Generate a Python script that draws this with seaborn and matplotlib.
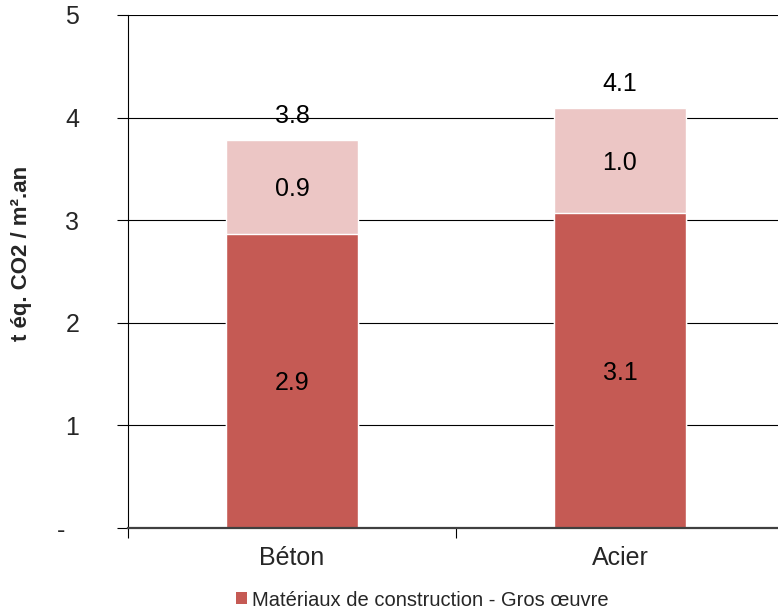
import matplotlib
matplotlib.use("Agg")
import matplotlib.pyplot as plt
import seaborn as sns
import pandas as pd
from matplotlib.patches import Patch
from matplotlib.ticker import FixedLocator

# Data: CO2 emissions per structure type (t éq. CO2 / m².an)
categories = ["Béton", "Acier"]
gros_oeuvre = [2.87, 3.07]        # Matériaux de construction - Gros œuvre
second_oeuvre = [0.91, 1.02]      # upper segment
totals = [a + b for a, b in zip(gros_oeuvre, second_oeuvre)]
y_ticks = [0, 1, 2, 3, 4, 5]
y_tick_labels = ["-  ", "1", "2", "3", "4", "5"]
legend_label = "Matériaux de construction - Gros œuvre"
y_label = "t éq. CO2 / m².an"

DARK = "#C55A54"
LIGHT = "#ECC6C5"
FS = 18

sns.set_theme(style="white")
plt.rcParams["font.family"] = ["Liberation Sans", "DejaVu Sans"]

df = pd.DataFrame({"cat": categories, "low": gros_oeuvre,
                   "high": second_oeuvre, "total": totals})

fig = plt.figure(figsize=(7.78, 6.11), dpi=100)
ax = fig.add_axes([128 / 778, 83 / 611, 656 / 778, 513 / 611])

# stacked bars: full height first, lower segment drawn over it
sns.barplot(data=df, x="cat", y="total", color=LIGHT, saturation=1,
            width=0.4, errorbar=None, ax=ax)
sns.barplot(data=df, x="cat", y="low", color=DARK, saturation=1,
            width=0.4, errorbar=None, ax=ax)

half_digit = 0.088  # half the digit height, in data units
for i, row in df.iterrows():
    ax.text(i, row["low"] / 2 - half_digit, f"{row['low']:.1f}",
            ha="center", va="baseline", fontsize=FS, color="black")
    ax.text(i, row["low"] + row["high"] / 2 - half_digit, f"{row['high']:.1f}",
            ha="center", va="baseline", fontsize=FS, color="black")
    ax.text(i, row["total"] + 0.168, f"{row['total']:.1f}", ha="center",
            va="baseline", fontsize=FS, color="black")

ax.set_xlim(-0.5, 1.5)
ax.set_ylim(0, 5)
ax.set_yticks(y_ticks)
ax.set_yticklabels(y_tick_labels, fontsize=FS)
ax.yaxis.grid(True, color="black", lw=0.8)
ax.set_axisbelow(True)

ax.xaxis.set_minor_locator(FixedLocator([-0.5, 0.5, 1.5]))
ax.tick_params(axis="x", which="major", length=0, pad=13, labelsize=FS)
ax.tick_params(axis="x", which="minor", length=7, width=0.8, color="black",
               direction="out", bottom=True)
ax.tick_params(axis="y", which="major", length=8, width=0.8, color="black",
               direction="out", left=True, pad=27)

for s in ["top", "right"]:
    ax.spines[s].set_visible(False)
ax.spines["left"].set_color("black")
ax.spines["left"].set_linewidth(0.8)
ax.spines["bottom"].set_color("#404040")
ax.spines["bottom"].set_linewidth(1.6)
ax.set_xlabel("")
ax.set_ylabel("")

fig.text(22 / 778, 1 - 253 / 611, y_label, rotation=90, ha="center",
         va="center", fontsize=16, fontweight="bold")

fig.legend(handles=[Patch(facecolor=DARK, edgecolor="none", label=legend_label)],
           loc="center", bbox_to_anchor=(422 / 778, 11 / 611), frameon=False,
           fontsize=14.5, handlelength=0.55, handleheight=0.55,
           handletextpad=0.25, borderaxespad=0, borderpad=0)

fig.savefig("out.png", dpi=100)
